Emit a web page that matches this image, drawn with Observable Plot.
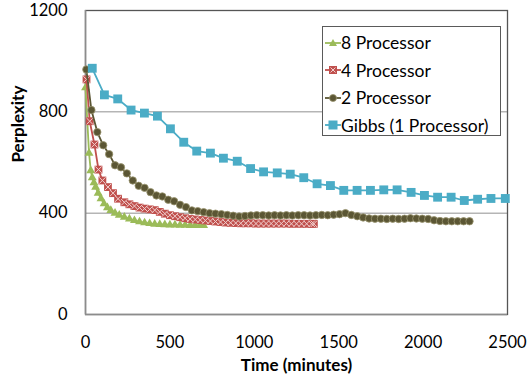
<!DOCTYPE html>
<html><head><meta charset="utf-8">
<script src="https://cdn.jsdelivr.net/npm/d3@7"></script>
<script src="https://cdn.jsdelivr.net/npm/@observablehq/plot@0.6"></script>
<style>
body{margin:0;background:#fff;}
#wrap{position:relative;width:527px;height:378px;font-family:Lato,"Open Sans",sans-serif;}
#legend{position:absolute;left:322px;top:26px;width:179px;height:110px;border:1px solid #5a5a5a;background:#fff;box-sizing:border-box;padding:2px 0 0 2px;}
#legend .row{display:flex;align-items:center;height:27.5px;font-size:17.5px;color:#000;white-space:nowrap;}
#legend svg{margin-right:0px;flex:none;}
</style></head><body>
<div id="wrap"></div>
<script>
const seriesNames = ["8 Processor","4 Processor","2 Processor","Gibbs (1 Processor)"];
const colors = ["#9BBB59","#C0504D","#5B5634","#4BACC6"];

const gibbsT = [40,112,191,270,349,426,503,582,659,740,817,899,978,1055,1136,1213,1293,1372,1451,1530,1609,1688,1767,1846,1929,2008,2086,2166,2244,2323,2402,2487];
const gibbsV = [972,867,851,807,795,783,733,680,645,637,617,605,576,563,559,554,540,516,509,490,490,490,492,492,482,470,463,463,450,455,458,458];

const p2T = [5,35,70,105,140,175,210,245,280,315,350,385,420,455,490,525,560,595,630,665,700,735,770,805,840,875,910,945,980,1015,1050,1085,1120,1155,1190,1225,1260,1295,1330,1365,1400,1435,1470,1505,1540,1575,1610,1645,1680,1715,1750,1785,1820,1855,1890,1925,1960,1995,2030,2065,2100,2135,2170,2205,2240,2275];
const p2V = [967,807,720,668,633,589,581,557,529,508,500,483,470,466,453,447,433,424,411,408,404,400,398,396,393,390,387,389,391,392,392,391,392,391,392,391,392,392,391,392,393,392,394,396,400,393,388,383,379,378,378,377,378,377,378,380,379,378,377,372,369,368,368,368,368,368];

const p4T = [6,25,53,77,100,133,163,193,230,260,290,320,350,380,410,440,470,500,530,560,590,620,650,680,710,740,770,800,830,860,890,920,950,980,1010,1040,1070,1100,1130,1160,1190,1220,1250,1280,1310,1340,1353];
const p4V = [928,763,671,572,529,503,479,457,443,435,428,422,418,415,412,405,398,392,388,384,380,377,375,373,371,369,367,365,363,362,361,360,360,360,359,359,359,359,359,359,359,358,358,358,358,358,358];

const p8T = [0,21,31,40,50,60,75,92,110,130,150,175,200,230,260,290,320,350,380,410,440,470,500,530,560,590,620,650,680,700];
const p8V = [895,637,568,540,520,503,479,457,437,422,411,400,392,384,377,371,366,362,359,357,356,355,354,354,353,353,352,352,352,352];

const xTicks = [0,500,1000,1500,2000,2500];
const yTicks = [0,400,800,1200];

const mk = (T,V,name) => T.map((t,i)=>({t, v:V[i], s:name}));
const d8 = mk(p8T,p8V,seriesNames[0]);
const d4 = mk(p4T,p4V,seriesNames[1]);
const d2 = mk(p2T,p2V,seriesNames[2]);
const dg = mk(gibbsT,gibbsV,seriesNames[3]);
const fmt = d => String(d);

const plot = Plot.plot({
  width:527, height:378,
  marginLeft:85, marginRight:20, marginTop:10, marginBottom:64,
  style:{fontFamily:"Lato, 'Open Sans', sans-serif", fontSize:"16.5px", color:"#000", background:"#fff"},
  x:{domain:[0,2500], label:null},
  y:{domain:[0,1200], label:null},
  marks:[
    Plot.gridY(yTicks.slice(1,3), {stroke:"#b5b5b5", strokeOpacity:1, strokeWidth:1.5}),
    Plot.frame({stroke:"#555", strokeWidth:1.3}),
    Plot.ruleX([0], {stroke:"#8c8c8c", strokeWidth:1.5}),
    Plot.ruleY([0], {stroke:"#8c8c8c", strokeWidth:1.5}),
    Plot.line(d8, {x:"t", y:"v", stroke:colors[0], strokeWidth:1.8}),
    Plot.dot(d8, {x:"t", y:"v", symbol:"triangle", r:3.3, fill:colors[0], stroke:"none"}),
    Plot.line(d4, {x:"t", y:"v", stroke:colors[1], strokeWidth:1.8}),
    Plot.dot(d4, {x:"t", y:"v", symbol:"square", r:4.4, fill:colors[1], stroke:"none"}),
    Plot.dot(d4, {x:"t", y:"v", symbol:"times", r:3.0, stroke:"#f0d0cf", strokeWidth:1}),
    Plot.line(d2, {x:"t", y:"v", stroke:colors[2], strokeWidth:1.8}),
    Plot.dot(d2, {x:"t", y:"v", symbol:"circle", r:3.7, fill:colors[2], stroke:"#9a9570", strokeWidth:0.8}),
    Plot.line(dg, {x:"t", y:"v", stroke:colors[3], strokeWidth:1.8}),
    Plot.dot(dg, {x:"t", y:"v", symbol:"square", r:5.0, fill:colors[3], stroke:"none"}),
    Plot.axisX({ticks:xTicks, tickSize:0, tickPadding:22, tickFormat:fmt, label:null}),
    Plot.axisY({ticks:yTicks, tickSize:0, tickPadding:18, tickFormat:fmt, label:null}),
    Plot.text(["Time (minutes)"], {frameAnchor:"bottom", dy:56, fontWeight:"bold", fontSize:17}),
    Plot.text(["Perplexity"], {frameAnchor:"left", dx:-67, rotate:-90, fontWeight:"bold", fontSize:17})
  ]
});
const wrap = document.getElementById("wrap");
wrap.appendChild(plot);

const leg = document.createElement("div");
leg.id = "legend";
const icons = [
  c => `<polygon points="8,4 12,11 4,11" fill="${c}"/>`,
  c => `<rect x="4" y="4" width="8" height="8" fill="${c}"/><path d="M5.5,5.5L10.5,10.5M10.5,5.5L5.5,10.5" stroke="#f0d0cf" stroke-width="1"/>`,
  c => `<circle cx="8" cy="8" r="3.5" fill="${c}" stroke="#9a9570" stroke-width="0.8"/>`,
  c => `<rect x="3.5" y="3.5" width="9" height="9" fill="${c}"/>`
];
seriesNames.forEach((n,i)=>{
  const row = document.createElement("div");
  row.className = "row";
  row.innerHTML = `<svg width="16" height="16"><line x1="0" x2="16" y1="8" y2="8" stroke="${colors[i]}" stroke-width="1.8"/>${icons[i](colors[i])}</svg><span>${n}</span>`;
  leg.appendChild(row);
});
wrap.appendChild(leg);
</script>
</body></html>
